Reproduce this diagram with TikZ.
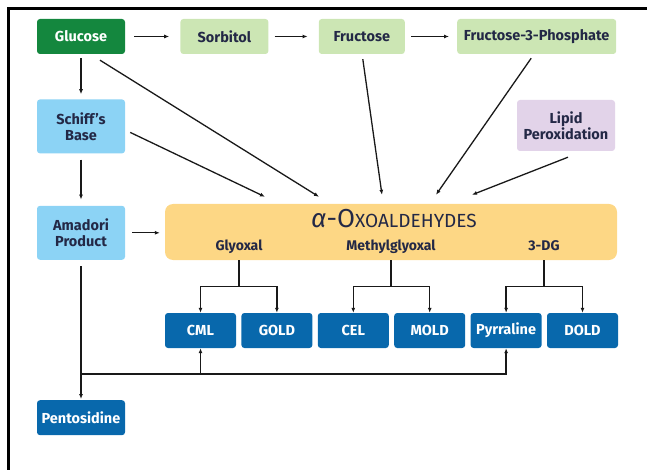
\documentclass[tikz,border=0pt]{standalone}
\usepackage{fontspec}
\setmainfont{Fira Sans}
\usetikzlibrary{arrows.meta,positioning}
\definecolor{GlucGreen}{RGB}{20,135,62}
\definecolor{PaleGreen}{RGB}{204,230,180}
\definecolor{SkyBlue}{RGB}{140,211,245}
\definecolor{Lilac}{RGB}{226,211,233}
\definecolor{OxoYellow}{RGB}{253,215,133}
\definecolor{AgeBlue}{RGB}{8,104,172}
\definecolor{InkNavy}{RGB}{35,40,70}

\begin{document}
\begin{tikzpicture}[x=1pt, y=-1pt,
  node distance=5pt, % gap between the product boxes
  box/.style={rounded corners=3pt, align=center, inner sep=1pt,
    font=\bfseries\fontsize{14.5}{16}\selectfont, text=InkNavy},
  sugar/.style={box, fill=GlucGreen, text=white, minimum width=88pt, minimum height=35pt},
  polyol/.style={box, fill=PaleGreen, minimum height=35pt},
  adduct/.style={box, fill=SkyBlue, minimum width=88pt, minimum height=54pt},
  lipidsrc/.style={box, fill=Lilac, minimum width=98pt, minimum height=51pt},
  dicarb/.style={rounded corners=8pt, fill=OxoYellow, minimum width=452pt, minimum height=56pt},
  product/.style={box, fill=AgeBlue, text=white, minimum width=71pt, minimum height=35pt},
  sublabel/.style={font=\bfseries\fontsize{14}{16}\selectfont, text=InkNavy, anchor=base},
  arrow/.style={-{Latex[length=5pt,width=4pt]}, line width=1.3pt, draw=black!90}
]
\useasboundingbox (0,0) rectangle (647,470);

% --- Frame ---
\draw[line width=3pt] (8.5,470) -- (8.5,8.5) -- (647,8.5);

% --- Top row: polyol pathway ---
\node[sugar] (glucose) at (81,36.5) {Glucose};
\node[polyol, minimum width=88pt, right=55pt of glucose] (sorbitol) {Sorbitol};
\node[polyol, minimum width=86pt, right=50pt of sorbitol] (fructose) {Fructose};
\node[polyol, minimum width=159pt, right=52pt of fructose] (fthreep) {Fructose-3-Phosphate};

% --- Left column: glycation adducts ---
\node[adduct, below=45pt of glucose] (schiff) {Schiff's\\Base};
\node[adduct, below=52pt of schiff] (amadori) {Amadori\\Product};
\node[product, minimum width=88pt, below=140pt of amadori] (pentosidine) {Pentosidine};

\node[lipidsrc] (lipid) at (566,125.5) {Lipid\\Peroxidation};

% --- Middle: dicarbonyls ---
\node[dicarb] (oxo) at (391,232) {};
\node[anchor=base, text=InkNavy] (oxotitle) at (394,227)
  {{\fontsize{26}{26}\selectfont\itshape α}{\fontsize{26}{26}\selectfont-O}{\fontsize{19}{19}\selectfont XOALDEHYDES}};
\node[sublabel] (glyoxal) at (239,251) {Glyoxal};
\node[sublabel] (methylglyoxal) at (391,251) {Methylglyoxal};
\node[sublabel] (threedg) at (544,251) {3-DG};

% --- Bottom row: end products ---
\node[product] (cml) at (200.5,330.5) {CML};
\node[product, right=of cml] (gold) {GOLD};
\node[product, right=of gold] (cel) {CEL};
\node[product, right=of cel] (mold) {MOLD};
\node[product, right=of mold] (pyrraline) {Pyrraline};
\node[product, right=of pyrraline] (dold) {DOLD};

\coordinate (merge) at (82,374);

% --- Arrows ---
\draw[arrow, shorten <=9pt, shorten >=11pt] (glucose) -- (sorbitol);
\draw[arrow, shorten <=6pt, shorten >=11pt] (sorbitol) -- (fructose);
\draw[arrow, shorten <=6pt, shorten >=8pt] (fructose) -- (fthreep);
\draw[arrow, shorten <=4pt, shorten >=5pt] (glucose) -- (schiff);
\draw[arrow, shorten <=6pt, shorten >=6pt] (schiff) -- (amadori);
\draw[arrow, shorten <=7pt, shorten >=5pt] (amadori) -- (amadori -| oxo.west);
\draw[arrow, shorten <=6pt, shorten >=1pt] (amadori) -- (pentosidine);

% Converging arrows onto the dicarbonyl box
\draw[arrow] ([xshift=5pt,yshift=-6pt]schiff.east) -- ([xshift=-126pt,yshift=7pt]oxo.north);
\draw[arrow] ([xshift=19pt,yshift=-6pt]glucose.south) -- ([xshift=-72pt,yshift=7pt]oxo.north);
\draw[arrow] ([xshift=1pt,yshift=-5pt]fructose.south) -- ([xshift=-9pt,yshift=9pt]oxo.north);
\draw[arrow] ([xshift=-5.5pt,yshift=-4pt]fthreep.south) -- ([xshift=45pt,yshift=9pt]oxo.north);
\draw[arrow] ([xshift=2pt,yshift=-6pt]lipid.south) -- ([xshift=81pt,yshift=9pt]oxo.north);

% Split brackets down to the products
\draw[arrow] (glyoxal |- oxo.south) -- ++(0,26) -| (cml.north);
\draw[arrow] (glyoxal |- oxo.south) -- ++(0,26) -| (gold.north);
\draw[arrow] (methylglyoxal |- oxo.south) -- ++(0,26) -| (cel.north);
\draw[arrow] (methylglyoxal |- oxo.south) -- ++(0,26) -| (mold.north);
\draw[arrow] (threedg |- oxo.south) -- ++(0,26) -| (pyrraline.north);
\draw[arrow] (threedg |- oxo.south) -- ++(0,26) -| (dold.north);

% Amadori route back up to CML and Pyrraline
\draw[arrow] (merge) -| (cml.south);
\draw[arrow] (merge) -| (pyrraline.south);

\end{tikzpicture}
\end{document}
